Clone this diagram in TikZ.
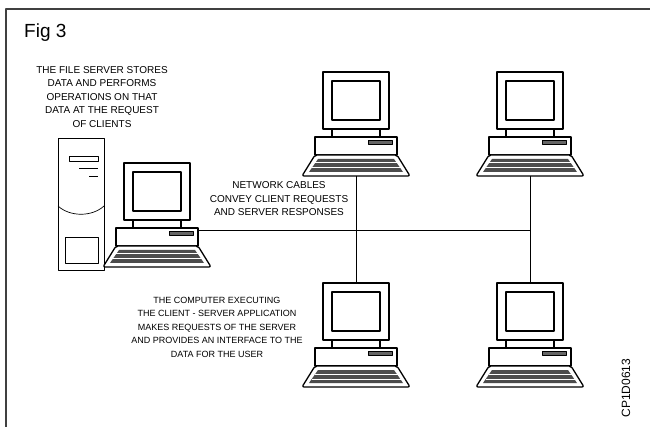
\documentclass[tikz,border=0pt]{standalone}
\usepackage{fontspec}
\setmainfont{Liberation Sans}

\begin{document}
\begin{tikzpicture}[x=1pt,y=-1pt,line join=round]
\tikzstyle{pcline}=[line width=1.3pt]
\tikzstyle{cable}=[line width=0.9pt]
\tikzstyle{note}=[align=center,inner sep=0pt,font=\fontsize{10}{13.5}\selectfont]

% one desktop computer, #1 = name, (#2,#3) = top left of the monitor
\def\pc#1#2#3{%
 \begin{scope}[shift={(#2,#3)}]
  \draw[pcline,fill=white] (0,0) rectangle (66,57);
  \draw[pcline] (9,9) rectangle (57,48);
  \draw[pcline,fill=white] (9,57) rectangle (57,65);
  \draw[pcline,fill=white] (-8,65) rectangle (74,83);
  \draw[line width=0.6pt,fill=black!60] (45,68) rectangle (69,72);
  \draw[pcline,fill=white,rounded corners=2pt] (-8,83) -- (74,83) -- (87,104) -- (-21,104) -- cycle;
  \fill[black!70] (-5,87) -- (71,87) -- (80,100) -- (-14,100) -- cycle;
  \draw[white,line width=1pt] (-8,91) -- (75,91) (-11,96) -- (78,96);
  \coordinate (#1-top) at (33,0);
  \coordinate (#1-kb) at (33,104);
  \coordinate (#1-port) at (74,67);
 \end{scope}}

\useasboundingbox (0,0) rectangle (650,427);
\draw[black!75,line width=1.2pt] (6,427) -- (6,9) -- (650,9);

\node[anchor=base west,inner sep=0pt,font=\fontsize{19}{19}\selectfont] (fig) at (24,38) {Fig 3};

% file server tower
\draw[line width=0.8pt,fill=white] (58,138) rectangle (104,270);
\draw[line width=0.7pt] (69,156) rectangle (98,161);
\draw[line width=0.7pt] (79,168) -- (98,168);
\draw[line width=0.7pt] (89,176) -- (98,176);
\draw[line width=0.7pt] (58,206) .. controls (70,217) and (92,217) .. (104,206);
\draw[line width=0.7pt] (65,237) rectangle (98,263);

\pc{L}{124}{163}
\pc{T1}{323}{72}
\pc{T2}{497}{72}
\pc{B1}{323}{283}
\pc{B2}{497}{283}

% network cables
\coordinate (J) at (T2-kb |- L-port);
\draw[cable] (L-port) -- (J);
\draw[cable] (T1-kb) -- (B1-top);
\draw[cable] (T2-kb) -- (B2-top);

\node[note] (srvtxt) at (102,97) {THE FILE SERVER STORES\\DATA AND PERFORMS\\OPERATIONS ON THAT\\DATA AT THE REQUEST\\OF CLIENTS};
\node[note] (cabletxt) at (279,199) {NETWORK CABLES\\CONVEY CLIENT REQUESTS\\AND SERVER RESPONSES};
\node[note,font=\fontsize{9}{13.5}\selectfont] (clienttxt) at (217,327) {THE COMPUTER EXECUTING\\THE CLIENT - SERVER APPLICATION\\MAKES REQUESTS OF THE SERVER\\AND PROVIDES AN INTERFACE TO THE\\DATA FOR THE USER};
\node[rotate=90,inner sep=0pt,font=\fontsize{12}{12}\selectfont] (code) at (626,388) {CP1D0613};
\end{tikzpicture}
\end{document}
